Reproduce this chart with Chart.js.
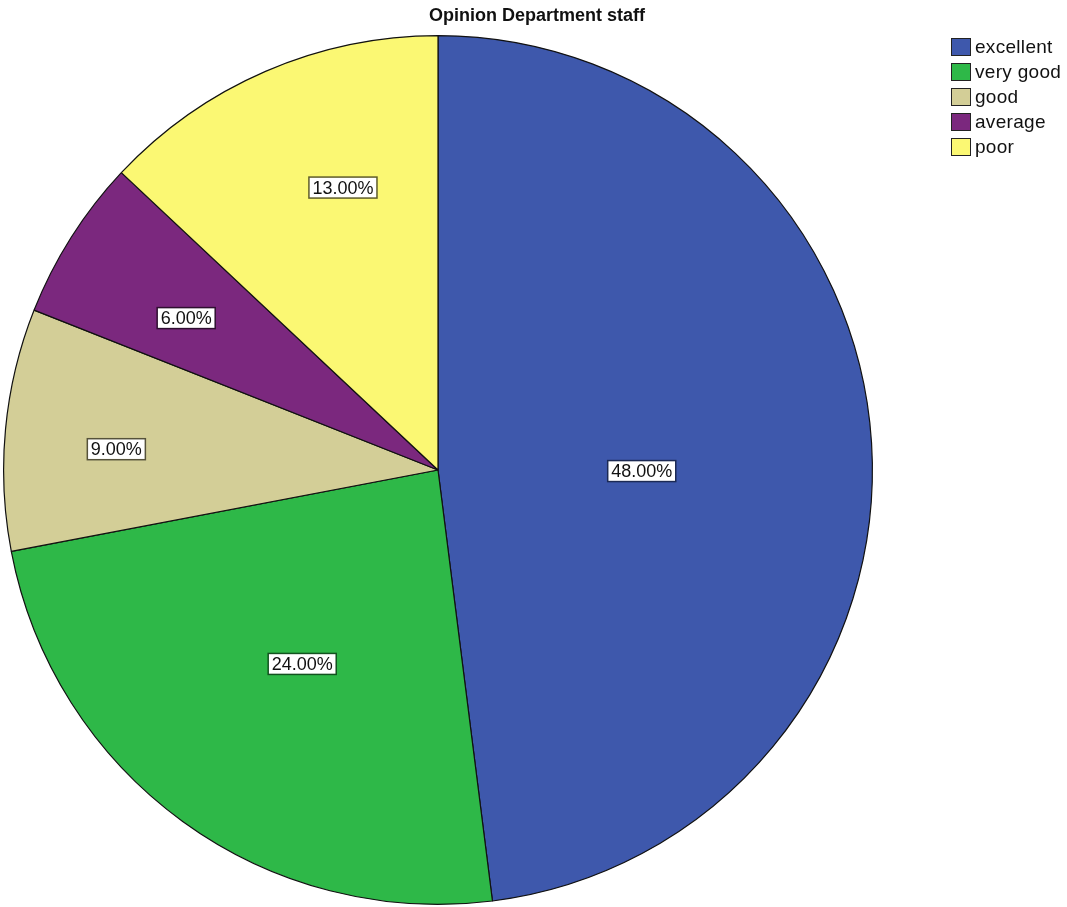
<!DOCTYPE html>
<html>
<head>
<meta charset="utf-8">
<script src="https://cdn.jsdelivr.net/npm/chart.js@4.4.1/dist/chart.umd.min.js"></script>
<style>
  html, body { margin: 0; padding: 0; background: #fff; }
  #wrap { position: relative; width: 1067px; height: 907px; }
  #title { position: absolute; left: 0; top: 5px; width: 1074px; text-align: center;
           font: bold 18px "Liberation Sans", Arial, sans-serif; color: #111; }
  #legend { position: absolute; left: 951px; top: 38px; font: 19px "Liberation Sans", Arial, sans-serif; color: #111; }
  #legend div { height: 25px; display: flex; align-items: flex-start; }
  #legend span.sw { display: inline-block; width: 18px; height: 16px; border: 1px solid #222; margin-right: 4px; }
  #legend span.tx { line-height: 17px; letter-spacing: 0.3px; }
</style>
</head>
<body>
<div id="wrap">
  <canvas id="c" width="1067" height="907"></canvas>
  <div id="title"></div>
  <div id="legend"></div>
</div>
<script>
// 資料
const TITLE = 'Opinion Department staff';
const LABELS = ['excellent', 'very good', 'good', 'average', 'poor'];
const VALUES = [48, 24, 9, 6, 13];
const COLORS = ['#3e58ac', '#2eb848', '#d3ce97', '#7b287e', '#fbf873'];
const BORDERS = ['#1c2a55', '#12521f', '#55523a', '#2e0f30', '#5e5c2a'];   // 標籤框邊色
const LABEL_R = [0.469, 0.545, 0.742, 0.677, 0.686];                        // 標籤離圓心的比例
const LABEL_DA = [3.9, -1.0, -1.7, -1.3, 4.8];                              // 標籤角度微調(度)

const FONT = '"Liberation Sans", Arial, sans-serif';

document.getElementById('title').textContent = TITLE;

// 圖例(HTML)
const lg = document.getElementById('legend');
LABELS.forEach((l, i) => {
  const row = document.createElement('div');
  row.innerHTML = '<span class="sw" style="background:' + COLORS[i] + '"></span><span class="tx">' + l + '</span>';
  lg.appendChild(row);
});

// 百分比標籤:白底框 + 深色邊
const pctLabels = {
  id: 'pctLabels',
  afterDatasetsDraw(chart) {
    const { ctx } = chart;
    const meta = chart.getDatasetMeta(0);
    const total = VALUES.reduce((a, b) => a + b, 0);
    ctx.save();
    ctx.font = '18px ' + FONT;
    ctx.textAlign = 'center';
    ctx.textBaseline = 'middle';
    meta.data.forEach((arc, i) => {
      const mid = (arc.startAngle + arc.endAngle) / 2 + LABEL_DA[i] * Math.PI / 180;
      const r = arc.outerRadius * LABEL_R[i];
      const x = arc.x + Math.cos(mid) * r;
      const y = arc.y + Math.sin(mid) * r;
      const txt = (VALUES[i] / total * 100).toFixed(2) + '%';
      const w = ctx.measureText(txt).width + 7, h = 21;
      ctx.fillStyle = '#fff';
      ctx.fillRect(x - w / 2, y - h / 2, w, h);
      ctx.lineWidth = 1.5;
      ctx.strokeStyle = BORDERS[i];
      ctx.strokeRect(x - w / 2, y - h / 2, w, h);
      ctx.fillStyle = '#111';
      ctx.fillText(txt, x, y + 1);
    });
    ctx.restore();
  },
};

new Chart(document.getElementById('c'), {
  type: 'pie',
  data: {
    labels: LABELS,
    datasets: [{ data: VALUES, backgroundColor: COLORS, borderColor: '#111', borderWidth: 1.2 }],
  },
  options: {
    responsive: false,
    animation: false,
    layout: { padding: { left: 3, right: 194, top: 35, bottom: 2 } },
    plugins: {
      legend: { display: false },
      tooltip: { enabled: false },
      title: { display: false },
    },
  },
  plugins: [pctLabels],
});
</script>
</body>
</html>
